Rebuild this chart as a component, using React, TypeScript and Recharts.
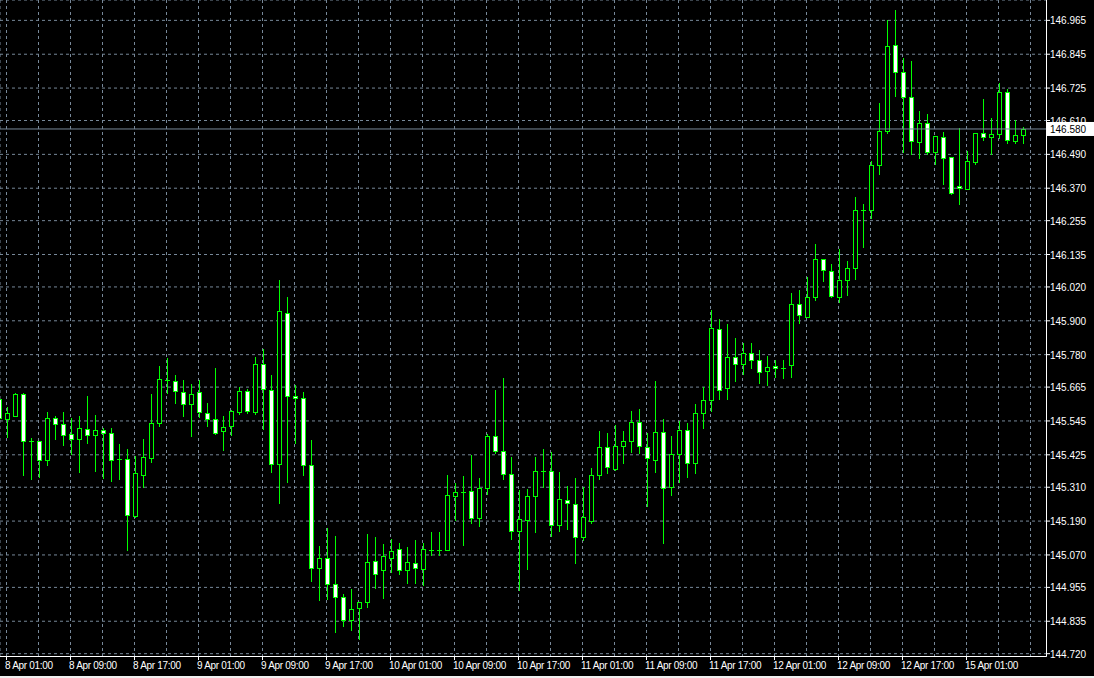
import { ComposedChart, Bar, XAxis, YAxis, CartesianGrid, ReferenceLine } from "recharts";

// hourly USDJPY-style candles, first one sits half off the left edge
const opens = [
  145.623, 145.553, 145.563, 145.640, 145.474, 145.474, 145.405, 145.554, 145.533, 145.497,
  145.482, 145.515, 145.496, 145.512, 145.502, 145.411, 145.411, 145.209, 145.354, 145.415,
  145.539, 145.691, 145.685, 145.646, 145.604, 145.646, 145.572, 145.551, 145.508, 145.526,
  145.578, 145.650, 145.578, 145.746, 145.653, 145.391, 145.926, 145.632, 145.625, 145.388,
  145.022, 145.058, 144.966, 144.920, 144.839, 144.881, 144.902, 145.047, 145.015, 145.058,
  145.090, 145.015, 145.040, 145.021, 145.088, 145.088, 145.088, 145.278, 145.293, 145.295,
  145.200, 145.306, 145.490, 145.437, 145.356, 145.154, 145.195, 145.278, 145.366, 145.366,
  145.177, 145.266, 145.249, 145.135, 145.191, 145.352, 145.451, 145.376, 145.455, 145.475,
  145.540, 145.451, 145.405, 145.505, 145.310, 145.427, 145.512, 145.397, 145.572, 145.618,
  145.870, 145.661, 145.770, 145.746, 145.785, 145.760, 145.721, 145.739, 145.734, 145.742,
  145.958, 145.914, 145.983, 146.118, 146.075, 145.983, 146.043, 146.086, 146.292, 146.292,
  146.451, 146.572, 146.876, 146.781, 146.692, 146.533, 146.600, 146.497, 146.550, 146.479,
  146.377, 146.366, 146.464, 146.565, 146.550, 146.561, 146.710, 146.536, 146.557,
];

const highs = [
  145.630, 145.594, 145.643, 145.643, 145.483, 145.474, 145.577, 145.562, 145.577, 145.554,
  145.562, 145.633, 145.566, 145.520, 145.520, 145.463, 145.445, 145.421, 145.481, 145.640,
  145.740, 145.768, 145.708, 145.690, 145.676, 145.690, 145.607, 145.733, 145.562, 145.584,
  145.664, 145.657, 145.772, 145.799, 145.708, 146.044, 145.983, 145.672, 145.647, 145.476,
  145.102, 145.164, 145.136, 144.930, 144.948, 144.902, 145.143, 145.132, 145.108, 145.125,
  145.112, 145.097, 145.123, 145.113, 145.151, 145.151, 145.352, 145.324, 145.350, 145.423,
  145.343, 145.499, 145.655, 145.697, 145.416, 145.300, 145.304, 145.417, 145.445, 145.436,
  145.364, 145.314, 145.344, 145.312, 145.378, 145.509, 145.502, 145.530, 145.509, 145.580,
  145.587, 145.501, 145.686, 145.552, 145.491, 145.546, 145.536, 145.604, 145.664, 145.938,
  145.906, 145.888, 145.839, 145.821, 145.821, 145.796, 145.775, 145.760, 145.760, 145.998,
  146.009, 146.056, 146.172, 146.119, 146.100, 146.153, 146.111, 146.338, 146.313, 146.465,
  146.671, 146.966, 147.002, 146.830, 146.821, 146.644, 146.633, 146.554, 146.569, 146.479,
  146.582, 146.501, 146.565, 146.686, 146.619, 146.742, 146.720, 146.612, 146.586,
];

const lows = [
  145.545, 145.489, 145.562, 145.353, 145.340, 145.347, 145.389, 145.481, 145.461, 145.428,
  145.365, 145.468, 145.368, 145.344, 145.333, 145.340, 145.087, 145.204, 145.310, 145.400,
  145.528, 145.645, 145.610, 145.563, 145.493, 145.560, 145.528, 145.499, 145.443, 145.496,
  145.569, 145.572, 145.569, 145.516, 145.365, 145.255, 145.329, 145.467, 145.354, 144.979,
  144.911, 144.914, 144.796, 144.819, 144.805, 144.773, 144.884, 144.952, 144.916, 145.009,
  145.003, 144.971, 144.971, 144.964, 145.071, 145.071, 145.088, 145.194, 145.106, 145.184,
  145.173, 145.285, 145.432, 145.340, 145.127, 144.946, 145.019, 145.152, 145.312, 145.137,
  145.156, 145.163, 145.042, 145.123, 145.184, 145.340, 145.359, 145.371, 145.397, 145.436,
  145.432, 145.244, 145.365, 145.113, 145.283, 145.329, 145.345, 145.361, 145.521, 145.581,
  145.624, 145.624, 145.687, 145.710, 145.734, 145.680, 145.673, 145.702, 145.698, 145.702,
  145.893, 145.913, 145.974, 146.042, 145.984, 145.965, 145.992, 146.047, 146.162, 146.263,
  146.419, 146.564, 146.698, 146.497, 146.490, 146.476, 146.491, 146.455, 146.386, 146.348,
  146.315, 146.366, 146.457, 146.540, 146.492, 146.547, 146.529, 146.529, 146.529,
];

const closes = [
  145.554, 145.572, 145.640, 145.475, 145.474, 145.405, 145.554, 145.533, 145.496, 145.482,
  145.519, 145.496, 145.513, 145.501, 145.407, 145.411, 145.212, 145.359, 145.416, 145.536,
  145.692, 145.691, 145.650, 145.604, 145.639, 145.575, 145.551, 145.503, 145.522, 145.579,
  145.650, 145.579, 145.746, 145.657, 145.391, 145.934, 145.632, 145.625, 145.388, 145.022,
  145.058, 144.966, 144.920, 144.839, 144.877, 144.902, 145.044, 145.001, 145.065, 145.083,
  145.015, 145.044, 145.022, 145.090, 145.088, 145.088, 145.281, 145.292, 145.293, 145.200,
  145.306, 145.490, 145.437, 145.356, 145.154, 145.196, 145.278, 145.366, 145.366, 145.175,
  145.267, 145.253, 145.132, 145.203, 145.352, 145.451, 145.381, 145.455, 145.473, 145.540,
  145.455, 145.412, 145.505, 145.306, 145.428, 145.512, 145.397, 145.572, 145.618, 145.873,
  145.653, 145.770, 145.746, 145.785, 145.760, 145.717, 145.735, 145.731, 145.734, 145.958,
  145.919, 145.983, 146.118, 146.079, 145.987, 146.043, 146.086, 146.292, 146.292, 146.451,
  146.572, 146.873, 146.781, 146.692, 146.536, 146.600, 146.497, 146.554, 146.476, 146.352,
  146.370, 146.465, 146.565, 146.550, 146.561, 146.710, 146.540, 146.557, 146.580,
];

const dateLabels = [
  "8 Apr 01:00", "8 Apr 09:00", "8 Apr 17:00", "9 Apr 01:00", "9 Apr 09:00", "9 Apr 17:00",
  "10 Apr 01:00", "10 Apr 09:00", "10 Apr 17:00", "11 Apr 01:00", "11 Apr 09:00", "11 Apr 17:00",
  "12 Apr 01:00", "12 Apr 09:00", "12 Apr 17:00", "15 Apr 01:00",
];

const priceTicks = [
  144.72, 144.835, 144.955, 145.07, 145.19, 145.31, 145.425, 145.545, 145.665, 145.78,
  145.9, 146.02, 146.135, 146.255, 146.37, 146.49, 146.61, 146.725, 146.845, 146.965,
];

const data = opens.map((open, k) => ({
  i: k - 1,
  open,
  high: highs[k],
  low: lows[k],
  close: closes[k],
  range: [lows[k], highs[k]],
}));

// grid every 4 bars, labels every 8
const gridTicks = Array.from({ length: 33 }, (_, n) => n * 4);

const GREEN = "#00ff00";
const GRID = "#778899";
const FONT = "'Liberation Sans', Arial, sans-serif";

function Candle(props: any) {
  const { x, y, width, height, payload } = props;
  if (!payload || x == null) return null;
  const { open, high, low, close } = payload;
  const top = Math.min(y, y + height);
  const bottom = Math.max(y, y + height);
  const span = high - low;
  const toY = (v: number) => (span > 0 ? top + ((high - v) / span) * (bottom - top) : top);
  const cx = Math.floor(x + width / 2) + 0.5;
  const bt = Math.round(toY(Math.max(open, close))) + 0.5;
  const bb = Math.round(toY(Math.min(open, close))) + 0.5;
  const wickTop = Math.round(toY(high));
  const wickBot = Math.round(toY(low)) + 1;
  return (
    <g>
      <line x1={cx} x2={cx} y1={wickTop} y2={wickBot} stroke={GREEN} strokeWidth={1} shapeRendering="crispEdges" />
      {bb - bt < 1 ? (
        <line x1={cx - 2.5} x2={cx + 2.5} y1={bt} y2={bt} stroke={GREEN} strokeWidth={1} shapeRendering="crispEdges" />
      ) : (
        <rect
          x={cx - 2}
          y={bt}
          width={4}
          height={bb - bt}
          fill={close > open ? "#000" : "#fff"}
          stroke={GREEN}
          strokeWidth={1}
          shapeRendering="crispEdges"
        />
      )}
    </g>
  );
}

function TimeTick(props: any) {
  const { x, payload } = props;
  const idx = payload.value;
  if (idx % 8 !== 0 || !dateLabels[idx / 8]) return <g />;
  return (
    <g>
      <line x1={x} x2={x} y1={656.5} y2={660} stroke="#fff" />
      <text x={x - 1.5} y={669} fill="#fff" fontSize={10} letterSpacing={-0.3} fontFamily={FONT}>
        {dateLabels[idx / 8]}
      </text>
    </g>
  );
}

function PriceTick(props: any) {
  const { y, payload } = props;
  return (
    <g>
      <line x1={1046.5} x2={1050} y1={y} y2={y} stroke="#fff" />
      <text x={1050} y={y + 4} fill="#fff" fontSize={10} fontFamily={FONT}>
        {payload.value.toFixed(3)}
      </text>
    </g>
  );
}

function PriceTag(props: any) {
  const y = props.viewBox?.y ?? 0;
  return (
    <g>
      <rect x={1047} y={y - 7} width={47} height={14} fill="#fff" />
      <text x={1050} y={y + 4} fill="#000" fontSize={10} fontFamily={FONT}>
        {closes[closes.length - 1].toFixed(3)}
      </text>
    </g>
  );
}

export default function App() {
  return (
    <div style={{ width: 1094, height: 678, background: "#000", position: "relative" }}>
      <style>{"body{margin:0}"}</style>
      <ComposedChart
        width={1094}
        height={676}
        data={data}
        margin={{ top: 0, right: 0, bottom: 0, left: 0 }}
      >
        <CartesianGrid stroke={GRID} strokeDasharray="3 3" />
        <XAxis
          type="number"
          dataKey="i"
          domain={[-0.8125, 130]}
          allowDataOverflow
          ticks={gridTicks}
          interval={0}
          height={19.5}
          axisLine={{ stroke: "#fff" }}
          tickLine={false}
          tick={<TimeTick />}
        />
        <YAxis
          orientation="right"
          domain={[144.71, 147.0372]}
          allowDataOverflow
          ticks={priceTicks}
          interval={0}
          width={47.5}
          axisLine={{ stroke: "#fff" }}
          tickLine={false}
          tick={<PriceTick />}
        />
        <Bar dataKey="range" barSize={5} shape={(p: any) => <Candle {...p} />} isAnimationActive={false} />
        <ReferenceLine y={closes[closes.length - 1]} stroke={GRID} label={PriceTag} />
      </ComposedChart>
      <div style={{ position: "absolute", left: 0, bottom: 0, width: 1094, height: 2, background: "#f0f0f0" }} />
    </div>
  );
}
